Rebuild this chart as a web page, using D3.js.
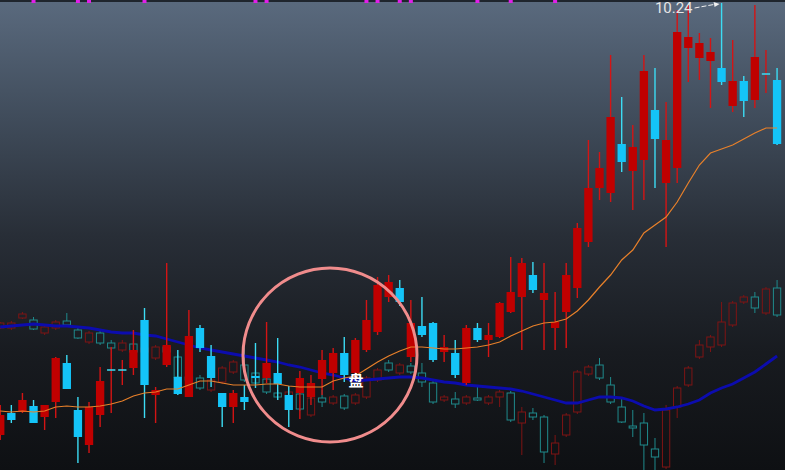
<!DOCTYPE html>
<html>
<head>
<meta charset="utf-8">
<script src="https://cdn.jsdelivr.net/npm/d3@7"></script>
<style>
  body { margin: 0; background: #0d0f12; overflow: hidden; }
</style>
</head>
<body>
<svg id="chart"></svg>
<script>
// main stock: daily candles
const open = [5.92, 6.14, 6.15, 6.21, 6.10, 6.25, 6.64, 6.17, 5.82, 6.12,
  6.57, 6.57, 6.59, 7.07, 6.32, 6.62, 6.50, 6.30, 6.99, 6.71,
  6.34, 6.20, 6.30, 6.51, 6.49, 6.54, 6.32, 6.34, 6.30, 6.48,
  6.54, 6.74, 6.54, 6.77, 6.95, 7.30, 7.39, 6.70, 7.01, 7.04,
  6.75, 6.74, 6.44, 6.99, 6.87, 6.90, 7.15, 7.30, 7.52, 7.27,
  6.99, 7.15, 7.39, 7.85, 8.39, 8.34, 8.83, 8.56, 8.67, 9.17,
  8.44, 8.59, 9.79, 9.69, 9.66, 9.59, 9.21, 9.46, 9.27, 9.53, 9.47];
const close = [6.12, 6.07, 6.27, 6.04, 6.22, 6.69, 6.38, 5.90, 6.20, 6.46,
  6.57, 6.57, 6.77, 6.42, 6.37, 6.82, 6.33, 6.91, 6.79, 6.49,
  6.20, 6.34, 6.25, 6.49, 6.64, 6.43, 6.17, 6.49, 6.44, 6.67,
  6.74, 6.52, 6.87, 7.07, 7.42, 7.45, 7.25, 7.04, 6.92, 6.67,
  6.80, 6.52, 6.99, 6.87, 6.92, 7.24, 7.35, 7.64, 7.37, 7.34,
  7.05, 7.52, 7.99, 8.39, 8.59, 9.10, 8.65, 8.80, 9.56, 8.88,
  8.87, 9.95, 9.90, 9.84, 9.75, 9.45, 9.46, 9.26, 9.70, 9.53, 8.83];
const high = [6.22, 6.22, 6.34, 6.27, 6.22, 6.70, 6.72, 6.30, 6.25, 6.60,
  6.80, 6.67, 6.97, 7.19, 6.40, 7.64, 6.77, 7.17, 7.02, 6.82,
  6.34, 6.37, 6.42, 6.84, 7.05, 6.89, 6.41, 6.56, 6.52, 6.77,
  6.79, 6.90, 6.89, 7.27, 7.50, 7.52, 7.47, 7.27, 7.30, 7.05,
  6.92, 6.87, 7.02, 7.04, 7.04, 7.25, 7.70, 7.69, 7.65, 7.64,
  7.35, 7.64, 8.04, 8.87, 8.75, 9.72, 9.30, 9.02, 9.72, 9.59,
  9.25, 10.17, 10.22, 9.94, 9.89, 10.24, 9.87, 9.51, 10.22, 9.77, 9.59];
const low = [5.87, 6.04, 6.14, 6.04, 5.97, 6.09, 6.38, 5.64, 5.74, 6.00,
  6.14, 6.42, 6.52, 6.09, 6.04, 6.60, 6.32, 6.30, 6.75, 6.40,
  6.00, 6.04, 6.17, 6.39, 6.44, 6.27, 6.00, 6.08, 6.22, 6.32,
  6.37, 6.45, 6.49, 6.75, 6.92, 7.25, 7.21, 6.65, 6.90, 6.65,
  6.65, 6.49, 6.42, 6.85, 6.70, 6.89, 7.14, 6.77, 7.34, 6.77,
  6.77, 6.79, 7.29, 7.80, 8.27, 8.25, 8.55, 8.17, 8.27, 8.39,
  7.80, 8.44, 9.45, 9.47, 9.19, 9.42, 9.15, 9.10, 9.19, 9.34, 8.82];
const ma = [6.16, 6.15, 6.16, 6.15, 6.16, 6.20, 6.21, 6.20, 6.20, 6.21,
  6.23, 6.26, 6.31, 6.34, 6.35, 6.38, 6.38, 6.42, 6.46, 6.46,
  6.44, 6.42, 6.42, 6.42, 6.43, 6.43, 6.41, 6.40, 6.40, 6.40,
  6.46, 6.49, 6.51, 6.58, 6.65, 6.71, 6.76, 6.80, 6.80, 6.79,
  6.78, 6.78, 6.79, 6.80, 6.82, 6.85, 6.91, 6.96, 7.01, 7.04,
  7.05, 7.08, 7.16, 7.27, 7.40, 7.52, 7.67, 7.77, 7.94, 8.02,
  8.10, 8.25, 8.44, 8.62, 8.74, 8.78, 8.82, 8.88, 8.94, 8.99, 8.99];

// overlaid comparison (faded)
const cmpOpen = [6.99, 6.99, 7.09, 7.07, 6.94, 6.99, 7.06, 6.97, 6.85, 6.94,
  6.84, 6.77, 6.83, 6.75, 6.69, 6.80, 6.70, 6.50, 6.49, 6.37,
  6.45, 6.55, 6.62, 6.54, 6.48, 6.34, 6.30, 6.33, 6.12, 6.29,
  6.24, 6.31, 6.24, 6.30, 6.47, 6.64, 6.54, 6.61, 6.54, 6.44,
  6.27, 6.28, 6.24, 6.29, 6.24, 6.30, 6.34, 6.04, 6.14, 6.10,
  5.73, 5.92, 6.15, 6.53, 6.62, 6.42, 6.20, 6.01, 6.04, 5.78,
  5.60, 6.20, 6.42, 6.70, 6.80, 6.82, 7.02, 7.25, 7.30, 7.14, 7.39];
const cmpClose = [7.04, 7.04, 7.13, 6.98, 7.00, 7.05, 7.02, 6.89, 6.94, 6.84,
  6.79, 6.84, 6.75, 6.79, 6.80, 6.75, 6.50, 6.47, 6.39, 6.47,
  6.59, 6.65, 6.47, 6.44, 6.35, 6.30, 6.35, 6.18, 6.29, 6.25,
  6.30, 6.19, 6.32, 6.49, 6.57, 6.57, 6.62, 6.55, 6.45, 6.25,
  6.30, 6.23, 6.30, 6.27, 6.30, 6.35, 6.07, 6.15, 6.10, 5.75,
  5.84, 6.12, 6.55, 6.60, 6.49, 6.25, 6.05, 5.99, 5.82, 5.70,
  6.17, 6.39, 6.59, 6.82, 6.90, 7.05, 7.24, 7.30, 7.19, 7.38, 7.12];
const cmpHigh = [7.05, 7.06, 7.15, 7.10, 7.02, 7.07, 7.14, 7.00, 6.96, 6.96,
  6.87, 6.87, 6.87, 6.81, 6.82, 6.82, 6.72, 6.57, 6.52, 6.49,
  6.61, 6.67, 6.82, 6.57, 6.50, 6.37, 6.37, 6.35, 6.31, 6.37,
  6.32, 6.33, 6.34, 6.51, 6.59, 6.67, 6.64, 6.64, 6.64, 6.46,
  6.32, 6.35, 6.32, 6.40, 6.32, 6.37, 6.36, 6.20, 6.19, 6.12,
  5.92, 6.14, 6.57, 6.62, 6.69, 6.50, 6.30, 6.17, 6.14, 5.89,
  6.22, 6.41, 6.61, 6.87, 6.92, 7.25, 7.26, 7.32, 7.35, 7.40, 7.47];
const cmpLow = [6.98, 6.97, 7.08, 6.97, 6.92, 6.97, 7.00, 6.88, 6.83, 6.82,
  6.77, 6.75, 6.74, 6.73, 6.67, 6.73, 6.48, 6.42, 6.37, 6.35,
  6.43, 6.53, 6.45, 6.42, 6.33, 6.27, 6.28, 6.16, 6.10, 6.20,
  6.22, 6.17, 6.22, 6.28, 6.45, 6.55, 6.52, 6.53, 6.40, 6.23,
  6.25, 6.19, 6.22, 6.26, 6.22, 6.20, 6.05, 5.72, 6.07, 5.64,
  5.62, 5.90, 6.13, 6.51, 6.47, 6.23, 6.04, 5.90, 5.57, 5.57,
  5.58, 6.09, 6.40, 6.68, 6.75, 6.80, 7.00, 7.23, 7.14, 7.12, 7.10];
const cmpMa = [7.00, 7.01, 7.02, 7.03, 7.02, 7.01, 7.01, 7.00, 6.99, 6.97,
  6.95, 6.94, 6.94, 6.92, 6.91, 6.88, 6.85, 6.82, 6.79, 6.77,
  6.75, 6.73, 6.71, 6.69, 6.67, 6.65, 6.62, 6.60, 6.57, 6.54,
  6.52, 6.49, 6.46, 6.47, 6.48, 6.49, 6.50, 6.50, 6.49, 6.47,
  6.45, 6.44, 6.42, 6.41, 6.40, 6.39, 6.38, 6.36, 6.33, 6.30,
  6.27, 6.24, 6.24, 6.27, 6.30, 6.30, 6.29, 6.26, 6.21, 6.17,
  6.18, 6.20, 6.23, 6.27, 6.34, 6.39, 6.43, 6.49, 6.55, 6.63, 6.71];

// candles flagged at the top edge
const signals = [3, 7, 8, 13, 23, 24, 33, 34, 36, 37, 43, 46, 50];

const days = open.map((d, i) => i);

const w = 785;
const h = 470;

const svg = d3.select("#chart").attr("width", w).attr("height", h);

const grad = svg.append("defs").append("linearGradient")
  .attr("id", "bg").attr("x1", 0).attr("y1", 0).attr("x2", 0).attr("y2", 1);
[[0, "#5a6a7e"], [0.25, "#404c5b"], [0.5, "#282e37"], [0.75, "#181b20"], [1, "#0e1013"]]
  .forEach(([o, c]) => grad.append("stop").attr("offset", o).attr("stop-color", c));

svg.append("rect").attr("width", w).attr("height", h).attr("fill", "url(#bg)");
svg.append("rect").attr("width", w).attr("height", 2).attr("fill", "#1f252d");

const xScale = d3.scaleBand().domain(days).range([-6.7, 784]).padding(0.25);
const yScale = d3.scaleLinear().domain([5.57, 10.27]).range([h, 0]);
const bw = xScale.bandwidth();
const cx = (i) => xScale(i) + bw / 2;

// faded comparison candles (hollow)
const cmp = days.map((i) => ({ i, o: cmpOpen[i], c: cmpClose[i], hi: cmpHigh[i], lo: cmpLow[i] }));
const cmpColor = (d) => (d.c >= d.o ? "#7e1414" : "#1f8a8c");

const cg = svg.append("g").attr("fill", "none").attr("stroke-width", 1);
cg.selectAll(".cwick-top").data(cmp).enter().append("line")
  .attr("x1", (d) => cx(d.i)).attr("x2", (d) => cx(d.i))
  .attr("y1", (d) => yScale(d.hi)).attr("y2", (d) => yScale(Math.max(d.o, d.c)))
  .attr("stroke", cmpColor);
cg.selectAll(".cwick-bot").data(cmp).enter().append("line")
  .attr("x1", (d) => cx(d.i)).attr("x2", (d) => cx(d.i))
  .attr("y1", (d) => yScale(Math.min(d.o, d.c))).attr("y2", (d) => yScale(d.lo))
  .attr("stroke", cmpColor);
cg.selectAll(".cbody").data(cmp).enter().append("rect")
  .attr("x", (d) => xScale(d.i) + 0.5)
  .attr("y", (d) => yScale(Math.max(d.o, d.c)))
  .attr("width", bw - 1)
  .attr("height", (d) => Math.max(1, Math.abs(yScale(d.o) - yScale(d.c))))
  .attr("stroke", cmpColor);

const line = (arr) => d3.line().x((i) => cx(i)).y((i) => yScale(arr[i]))(days);

svg.append("path").attr("d", line(cmpMa))
  .attr("fill", "none").attr("stroke", "#0c0cae").attr("stroke-width", 2.8);

// main candles
const main = days.map((i) => ({ i, o: open[i], c: close[i], hi: high[i], lo: low[i] }));
const up = (d) => d.c >= d.o;

svg.selectAll(".wick").data(main).enter().append("line")
  .attr("x1", (d) => cx(d.i)).attr("x2", (d) => cx(d.i))
  .attr("y1", (d) => yScale(d.hi)).attr("y2", (d) => yScale(d.lo))
  .attr("stroke", (d) => (up(d) ? "#d41414" : "#3cdcf4"))
  .attr("stroke-width", 1.4);

svg.selectAll(".body").data(main).enter().append("rect")
  .attr("x", (d) => xScale(d.i))
  .attr("y", (d) => yScale(Math.max(d.o, d.c)) - (d.o === d.c ? 0.75 : 0))
  .attr("width", bw)
  .attr("height", (d) => Math.max(1.5, Math.abs(yScale(d.o) - yScale(d.c))))
  .attr("fill", (d) => (d.o === d.c ? "#3cdcf4" : up(d) ? "#c00000" : "#14c4f8"));

svg.append("path").attr("d", line(ma))
  .attr("fill", "none").attr("stroke", "#e8802a").attr("stroke-width", 1.2);

// top markers
svg.selectAll(".sig").data(signals).enter().append("rect")
  .attr("x", (i) => cx(i) - 2).attr("y", 0).attr("width", 4).attr("height", 3)
  .attr("fill", "#e020e8");

// highest price label
const hiIdx = d3.maxIndex(high);
const hiY = yScale(high[hiIdx]);
svg.append("text")
  .attr("x", cx(hiIdx) - 29).attr("y", 13)
  .attr("text-anchor", "end")
  .attr("font-family", "Roboto, sans-serif").attr("font-size", 15)
  .attr("fill", "#e6e6e6")
  .text(high[hiIdx].toFixed(2));
svg.append("line")
  .attr("x1", cx(hiIdx) - 27).attr("y1", 8)
  .attr("x2", cx(hiIdx) - 5).attr("y2", hiY + 1)
  .attr("stroke", "#f0f0f0").attr("stroke-width", 1).attr("stroke-dasharray", "5,2");
svg.append("path")
  .attr("d", `M${cx(hiIdx) - 2},${hiY + 1} l-6,-2 l1,5 z`)
  .attr("fill", "#f0f0f0");

// hand drawn annotation
svg.append("circle")
  .attr("cx", 330).attr("cy", 355).attr("r", 87)
  .attr("fill", "none").attr("stroke", "#f08c8c").attr("stroke-width", 3);

svg.append("text")
  .attr("x", 356).attr("y", 379)
  .attr("text-anchor", "middle").attr("dominant-baseline", "central")
  .attr("font-family", "Noto Sans CJK SC").attr("font-size", 15).attr("font-weight", "bold")
  .attr("fill", "#ffffff")
  .text("盘");
</script>
</body>
</html>
